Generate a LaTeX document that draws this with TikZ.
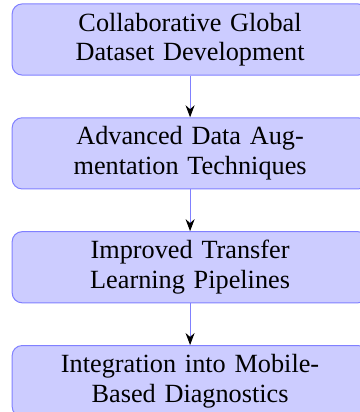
\documentclass[tikz,border=0pt]{standalone}
\usepackage{fontspec}
\setmainfont{Liberation Serif}
\usetikzlibrary{arrows.meta}

\begin{document}
\begin{tikzpicture}[
  stagebox/.style={draw=blue!50, fill=blue!20, rounded corners,
    minimum width=5cm, minimum height=1cm, text width=4cm, align=center,
    font=\fontsize{10.5}{11.8}\selectfont},
  flowarrow/.style={draw=blue!50, -{Stealth[black]}}]
\useasboundingbox (-2.671, 0.555) rectangle (2.376, -5.234);

\node[stagebox] (dataset) at (0, 0)
  {Collaborative Global Dataset Development};
\node[stagebox] (augment) at (0, -1.6)
  {Advanced Data Augmentation Techniques};
\node[stagebox] (transfer) at (0, -3.2)
  {Improved Transfer Learning Pipelines};
\node[stagebox] (mobile) at (0, -4.8)
  {Integration into Mobile-Based Diagnostics};

\draw[flowarrow] (dataset) -- (augment);
\draw[flowarrow] (augment) -- (transfer);
\draw[flowarrow] (transfer) -- (mobile);

\end{tikzpicture}
\end{document}
